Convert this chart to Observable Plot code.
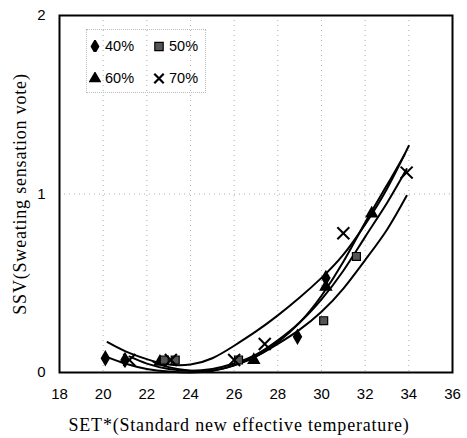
<!DOCTYPE html>
<html>
<head>
<meta charset="utf-8">
<script src="https://cdn.jsdelivr.net/npm/d3@7"></script>
<script src="https://cdn.jsdelivr.net/npm/@observablehq/plot@0.6"></script>
<style>
  body { margin: 0; background: #fff; }
  #wrap { position: relative; width: 467px; height: 438px; }
  svg { font-family: Arial, "Liberation Sans", sans-serif; }
  g[aria-label="x-axis label"] text, g[aria-label="y-axis label"] text {
    font-family: "Liberation Serif", "DejaVu Serif", serif; font-size: 18px; letter-spacing: 0.8px; fill: #000;
  }
  #legend { position: absolute; left: 86px; top: 29px; width: 118px; height: 62px;
    border: 1px dotted #bbb; font-family: Arial, "Liberation Sans", sans-serif; font-size: 14.5px; color: #000; }
  .item { position: absolute; display: flex; align-items: center; gap: 4px; }
</style>
</head>
<body>
<div id="wrap">
  <div id="chart"></div>
  <div id="legend"></div>
</div>
<script>
// Tick labels
const xTicks = [18, 20, 22, 24, 26, 28, 30, 32, 34, 36];
const yTicks = [0, 1, 2];
const series = ["40%", "50%", "60%", "70%"];
const symbols = ["diamond", "square", "triangle", "times"];

// Observed points (SET*, SSV)
const pts40 = [[20.1, 0.08], [21.0, 0.07], [28.9, 0.20], [30.2, 0.53]];
const pts50 = [[22.8, 0.07], [23.3, 0.07], [26.2, 0.07], [30.1, 0.29], [31.6, 0.65]];
const pts60 = [[22.6, 0.06], [26.9, 0.07], [30.2, 0.48], [32.3, 0.89]];
const pts70 = [[21.2, 0.07], [23.1, 0.07], [26.0, 0.07], [27.4, 0.16], [31.0, 0.78], [33.9, 1.12]];

// Fitted curves
const fitA = [[20.2,0.17],[21,0.12],[22,0.075],[23,0.045],[24,0.045],[25,0.08],[26,0.15],[27,0.23],[28,0.32],[29,0.42],[30,0.53],[31,0.66],[32,0.83],[33,1.03],[34,1.27]];
const fitB = [[21.2,0.09],[22,0.05],[23,0.02],[24,0.01],[25,0.02],[26,0.05],[27,0.10],[28,0.18],[29,0.28],[30,0.41],[31,0.57],[32,0.76],[33,0.95],[33.9,1.14]];
const fitC = [[22.3,0.06],[23,0.03],[24,0.01],[25,0.01],[26,0.04],[27,0.09],[28,0.17],[29,0.28],[30,0.43],[31,0.62],[32,0.84],[33,1.05],[33.8,1.22]];
const fitD = [[20.1,0.09],[21,0.05],[22,0.02],[23,0.005],[24,0],[25,0.01],[26,0.04],[27,0.09],[28,0.16],[29,0.24],[30,0.34],[31,0.47],[32,0.63],[33,0.80],[33.9,0.99]];

const allPts = [pts40, pts50, pts60, pts70].flatMap((arr, i) =>
  arr.map(([x, y]) => ({x, y, s: series[i], sym: symbols[i]})));
const fits = [fitA, fitB, fitC, fitD];

const marks = [
  Plot.gridX(xTicks.slice(1, -1), {stroke: "#999", strokeOpacity: 0.8, strokeDasharray: "1,4"}),
  Plot.gridY([1], {stroke: "#999", strokeOpacity: 0.8, strokeDasharray: "1,4"}),
  ...fits.map(f => Plot.line(f, {x: d => d[0], y: d => d[1], stroke: "#000", strokeWidth: 2, curve: "natural"})),
  Plot.dot(allPts.filter(d => d.sym !== "times" && d.sym !== "square"), {x: "x", y: "y", symbol: "sym", fill: "#000", r: 5}),
  Plot.dot(allPts.filter(d => d.sym === "square"), {x: "x", y: "y", symbol: "square", fill: "#555", stroke: "#000", strokeWidth: 1.2, r: 4.5}),
  Plot.dot(allPts.filter(d => d.sym === "times"), {x: "x", y: "y", symbol: "times", stroke: "#000", strokeWidth: 2, r: 5.5}),
  Plot.frame({stroke: "#000", strokeWidth: 2})
];

const chart = Plot.plot({
  width: 467,
  height: 438,
  marginLeft: 59,
  marginRight: 15,
  marginTop: 15,
  marginBottom: 66,
  style: {fontSize: "15px", color: "#000", background: "#fff"},
  x: {domain: [18, 36], ticks: xTicks, tickSize: 0, tickPadding: 16, tickFormat: d => String(d),
      label: "SET*(Standard new effective temperature)", labelAnchor: "center", labelOffset: 58, labelArrow: "none"},
  y: {domain: [0, 2], ticks: yTicks, tickSize: 0, tickPadding: 14, tickFormat: d => String(d),
      label: "SSV(Sweating sensation vote)", labelAnchor: "center", labelOffset: 46, labelArrow: "none"},
  symbol: {domain: symbols, range: symbols},
  marks
});
document.getElementById("chart").appendChild(chart);
// Reference title sits slightly left of the frame centre
d3.select(chart).selectAll('g[aria-label="x-axis label"] text').attr("dx", -17);

// Legend (HTML)
const legend = document.getElementById("legend");
const pos = [[2, 8], [66, 8], [2, 40], [66, 40]];
series.forEach((name, i) => {
  const it = document.createElement("div");
  it.className = "item";
  it.style.left = pos[i][0] + "px";
  it.style.top = pos[i][1] + "px";
  const svg = d3.create("svg").attr("width", 12).attr("height", 12);
  const sym = d3.symbol().type([d3.symbolDiamond, d3.symbolSquare, d3.symbolTriangle, d3.symbolTimes][i]).size(i === 3 ? 60 : 70)();
  const p = svg.append("path").attr("d", sym).attr("transform", "translate(6,6.5)");
  if (i === 3) p.attr("fill", "none").attr("stroke", "#000").attr("stroke-width", 2.2);
  else if (i === 1) p.attr("fill", "#555").attr("stroke", "#000").attr("stroke-width", 1.2);
  else p.attr("fill", "#000");
  it.appendChild(svg.node());
  const t = document.createElement("span");
  t.textContent = name;
  it.appendChild(t);
  legend.appendChild(it);
});
</script>
</body>
</html>
